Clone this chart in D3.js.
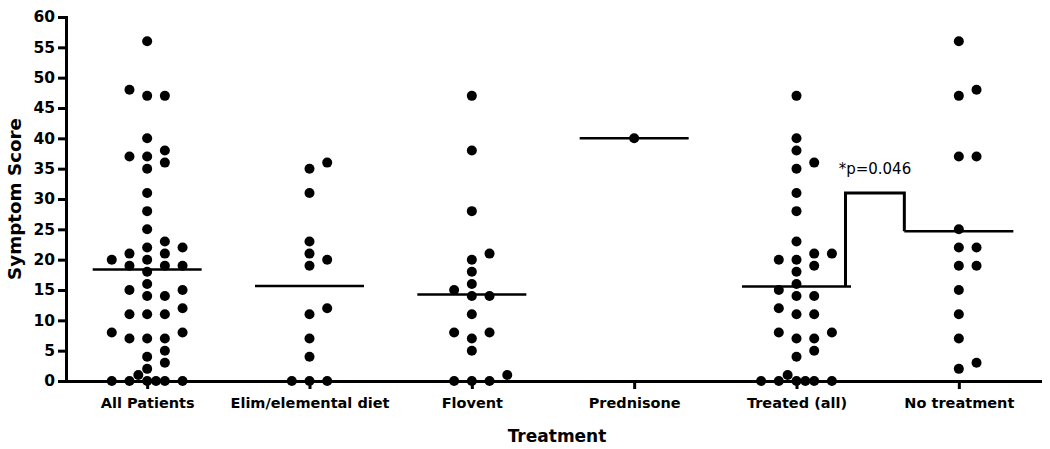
<!DOCTYPE html>
<html><head><meta charset="utf-8">
<script src="https://cdn.jsdelivr.net/npm/d3@7"></script>
<style>body{margin:0;background:#fff}svg{display:block}</style>
</head><body><svg id="c" width="1050" height="449"></svg>
<script>
// ---- data ----
const categories = ["All Patients","Elim/elemental diet","Flovent","Prednisone","Treated (all)","No treatment"];
const elimValues = [36,35,31,23,21,20,19,12,11,7,4,0,0,0];
const floventValues = [47,38,28,21,20,18,16,15,14,14,11,8,8,7,5,1,0,0,0];
const prednisoneValues = [40];
const noTreatmentValues = [56,48,47,37,37,25,22,22,19,19,15,11,7,3,2];
const treatedValues = elimValues.concat(floventValues, prednisoneValues);
const allValues = treatedValues.concat(noTreatmentValues);
const groupValues = [allValues, elimValues, floventValues, prednisoneValues, treatedValues, noTreatmentValues];
const yTicks = [0,5,10,15,20,25,30,35,40,45,50,55,60];
const yTitle = "Symptom Score";
const xTitle = "Treatment";
const pLabel = "*p=0.046";
const bracketTop = 31;

// ---- chart ----
const svg = d3.select("#c");
const FONT = "'DejaVu Sans', sans-serif";
const x = d3.scalePoint().domain(categories).range([66,1040]).padding(0.5);
const y = d3.scaleLinear().domain([0,60]).range([381,17]);

// axes
const yAxis = svg.append("g").attr("transform","translate(66,0)")
  .call(d3.axisLeft(y).tickValues(yTicks).tickSize(8).tickSizeOuter(0).tickPadding(3).tickFormat(d3.format("d")));
const xAxis = svg.append("g").attr("transform","translate(0,381)")
  .call(d3.axisBottom(x).tickSize(8).tickSizeOuter(0).tickPadding(9));
[yAxis, xAxis].forEach(g=>{
  g.selectAll("path.domain").attr("stroke","#000").attr("stroke-width",3).attr("stroke-linecap","square");
  g.selectAll(".tick line").attr("stroke","#000").attr("stroke-width",3);
  g.selectAll(".tick text").attr("fill","#000").attr("font-family",FONT).attr("font-weight","bold");
});
yAxis.selectAll(".tick text").attr("font-size","15.5px");
xAxis.selectAll(".tick text").attr("font-size","14.5px");

// titles
svg.append("text").attr("transform","translate(20.5,199) rotate(-90)")
  .attr("text-anchor","middle").attr("font-family",FONT).attr("font-weight","bold")
  .attr("font-size","18.3px").text(yTitle);
svg.append("text").attr("x",557).attr("y",441.7)
  .attr("text-anchor","middle").attr("font-family",FONT).attr("font-weight","bold")
  .attr("font-size","17px").text(xTitle);

// swarm layout
function swarm(vals){
  const sorted = vals.slice().sort((a,b)=>a-b);
  const slots=[0,1,-1,2,-2,0.5,-0.5,1.5,-1.5,2.5,-2.5,3,-3,3.5,-3.5,4,-4];
  const step=17.7, minD=8.5;
  const placed=[];
  sorted.forEach(v=>{
    const py=y(v);
    for(const s of slots){
      const px=s*step;
      if(placed.every(p=>Math.hypot(p.dx-px,p.py-py)>=minD)){placed.push({v,dx:px,py});break;}
    }
  });
  return placed;
}

const halfW = 54.5;
const means = groupValues.map(v=>d3.mean(v));

// mean lines
svg.append("g").selectAll("line").data(categories).join("line")
  .attr("x1",(c)=>x(c)-halfW).attr("x2",(c)=>x(c)+halfW)
  .attr("y1",(c,i)=>y(means[i])).attr("y2",(c,i)=>y(means[i]))
  .attr("stroke","#000").attr("stroke-width",2.5);

// dots
categories.forEach((c,i)=>{
  svg.append("g").selectAll("circle").data(swarm(groupValues[i])).join("circle")
    .attr("cx",d=>x(c)+d.dx).attr("cy",d=>d.py).attr("r",5).attr("fill","#000");
});

// significance bracket
const xl = x(categories[4]) + 49, xr = x(categories[5]) - halfW;
svg.append("path")
  .attr("d", d3.line()([[xl,y(means[4])],[xl,y(bracketTop)],[xr,y(bracketTop)],[xr,y(means[5])]]))
  .attr("fill","none").attr("stroke","#000").attr("stroke-width",3).attr("stroke-linejoin","miter");
svg.append("text").attr("x",(xl+xr)/2).attr("y",y(bracketTop)-18.5)
  .attr("text-anchor","middle").attr("font-family",FONT).attr("font-size","15px").text(pLabel);
</script></body></html>
